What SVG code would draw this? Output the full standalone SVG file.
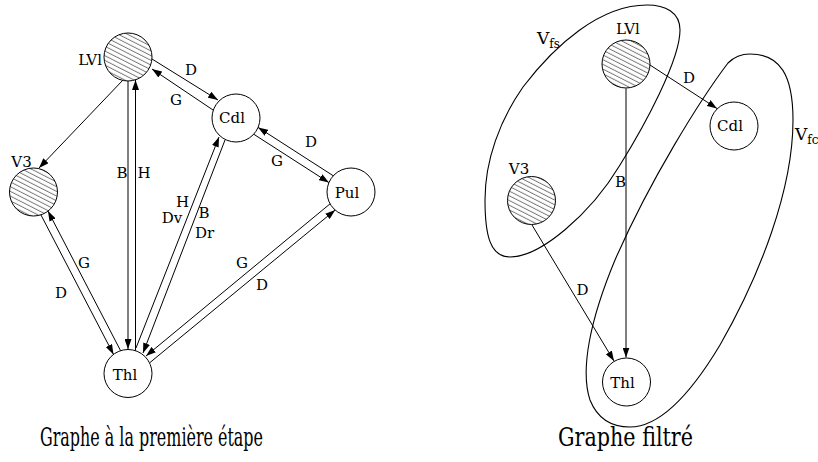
<svg xmlns="http://www.w3.org/2000/svg" width="818" height="462" viewBox="0 0 818 462">
<style>
  .node { fill: #fff; stroke: #000; stroke-width: 1; }
  .hatched { fill: url(#hatch); stroke: #000; stroke-width: 1; }
  .edge { fill: none; stroke: #000; stroke-width: 1; }
  .arr { marker-end: url(#ah); }
  .blob { fill: none; stroke: #000; stroke-width: 1.1; }
  text { font-family: 'DejaVu Serif', serif; fill: #000; }
  .lbl { font-size: 15px; text-anchor: middle; }
  .cap { font-size: 26px; }
</style>
<defs>
  <pattern id="hatch" patternUnits="userSpaceOnUse" width="10" height="4.2" patternTransform="rotate(27)">
    <rect width="10" height="4.2" fill="#fff"/>
    <line x1="0" y1="2" x2="10" y2="2" stroke="#333" stroke-width="0.7"/>
  </pattern>
  <marker id="ah" markerUnits="userSpaceOnUse" markerWidth="11" markerHeight="7" refX="10" refY="3.5" orient="auto">
    <path d="M0,0 L10,3.5 L0,7 z" fill="#000"/>
  </marker>
</defs>
<rect width="818" height="462" fill="#fff"/>

<g id="connectors-left">
  <line class="edge arr" x1="123" y1="80" x2="39" y2="168"/>
  <line class="edge arr" x1="128" y1="81" x2="128" y2="349"/>
  <line class="edge arr" x1="135.5" y1="350.7" x2="135.5" y2="80"/>
  <line class="edge arr" x1="152" y1="59" x2="218" y2="100"/>
  <line class="edge arr" x1="213" y1="110" x2="152" y2="69"/>
  <line class="edge arr" x1="136" y1="348" x2="219" y2="137"/>
  <line class="edge arr" x1="225" y1="140" x2="143" y2="353"/>
  <line class="edge arr" x1="333.3" y1="175.8" x2="258.1" y2="127.4"/>
  <line class="edge arr" x1="253.7" y1="134.2" x2="328.9" y2="182.6"/>
  <line class="edge arr" x1="330.1" y1="203.8" x2="146" y2="356"/>
  <line class="edge arr" x1="150" y1="362.5" x2="335.2" y2="210"/>
  <line class="edge arr" x1="120.6" y1="350.7" x2="48" y2="211.1"/>
  <line class="edge arr" x1="40.9" y1="214.8" x2="113.5" y2="354.4"/>
</g>
<g id="edge-labels-left">
  <text class="lbl" x="191" y="75">D</text>
  <text class="lbl" x="176" y="105">G</text>
  <text class="lbl" x="122" y="178">B</text>
  <text class="lbl" x="144" y="178">H</text>
  <text class="lbl" x="182.5" y="207">H</text>
  <text class="lbl" x="172" y="223">Dv</text>
  <text class="lbl" x="204" y="218">B</text>
  <text class="lbl" x="204.5" y="238">Dr</text>
  <text class="lbl" x="311" y="147">D</text>
  <text class="lbl" x="277" y="166">G</text>
  <text class="lbl" x="242" y="268">G</text>
  <text class="lbl" x="262" y="290">D</text>
  <text class="lbl" x="84" y="268">G</text>
  <text class="lbl" x="61" y="298">D</text>
</g>

<g id="L-LVl">
  <circle class="hatched" cx="128" cy="57" r="24"/>
  <text class="lbl" x="102" y="65" style="text-anchor:end">LVl</text>
</g>
<g id="L-Cdl">
  <circle class="node" cx="236" cy="118" r="24"/>
  <text class="lbl" x="232" y="123">Cdl</text>
</g>
<g id="L-V3">
  <circle class="hatched" cx="33.5" cy="192" r="24"/>
  <text class="lbl" x="21.5" y="167">V3</text>
</g>
<g id="L-Pul">
  <circle class="node" cx="351" cy="192" r="24"/>
  <text class="lbl" x="347" y="198">Pul</text>
</g>
<g id="L-Thl">
  <circle class="node" cx="128" cy="373.5" r="24"/>
  <text class="lbl" x="125" y="380">Thl</text>
</g>

<g id="R-Vfs">
  <path class="blob" d="M647,5 C600,5 555,45 523,87 C500,120 485,160 485,200 C485,235 490,257 510,257 C540,257 590,215 620,165 C645,125 680,60 680,30 C680,12 665,5 647,5 Z"/>
  <text x="537" y="44" font-size="17">V<tspan font-size="12" dy="4">fs</tspan></text>
</g>
<g id="R-Vfc">
  <path class="blob" d="M750,54 C740,54 733,58 728,63 C700,100 650,180 615,260 C590,320 580,370 590,400 C598,420 612,427 630,427 C660,427 690,395 720,345 C760,275 793,190 793,120 C793,75 780,54 750,54 Z"/>
  <text x="795" y="140" font-size="17">V<tspan font-size="12" dy="4">fc</tspan></text>
</g>
<g id="connectors-right">
  <line class="edge arr" x1="650" y1="65" x2="717" y2="108.5"/>
  <line class="edge arr" x1="626" y1="88.5" x2="626" y2="357.5"/>
  <line class="edge arr" x1="532" y1="225" x2="614" y2="361"/>
</g>
<g id="edge-labels-right">
  <text class="lbl" x="689" y="83">D</text>
  <text class="lbl" x="620.5" y="187">B</text>
  <text class="lbl" x="582.5" y="295">D</text>
</g>
<g id="R-LVl">
  <circle class="hatched" cx="626" cy="64" r="24"/>
  <text class="lbl" x="628" y="34">LVl</text>
</g>
<g id="R-Cdl">
  <circle class="node" cx="734" cy="126" r="24"/>
  <text class="lbl" x="730" y="131">Cdl</text>
</g>
<g id="R-V3">
  <circle class="hatched" cx="531.5" cy="200.5" r="24"/>
  <text class="lbl" x="519" y="174">V3</text>
</g>
<g id="R-Thl">
  <circle class="node" cx="626.5" cy="382" r="24"/>
  <text class="lbl" x="622.5" y="388">Thl</text>
</g>

<g id="captions">
  <text class="cap" x="40" y="446" textLength="223" lengthAdjust="spacingAndGlyphs">Graphe à la première étape</text>
  <text class="cap" x="558" y="446" textLength="135" lengthAdjust="spacingAndGlyphs">Graphe filtré</text>
</g>
</svg>
